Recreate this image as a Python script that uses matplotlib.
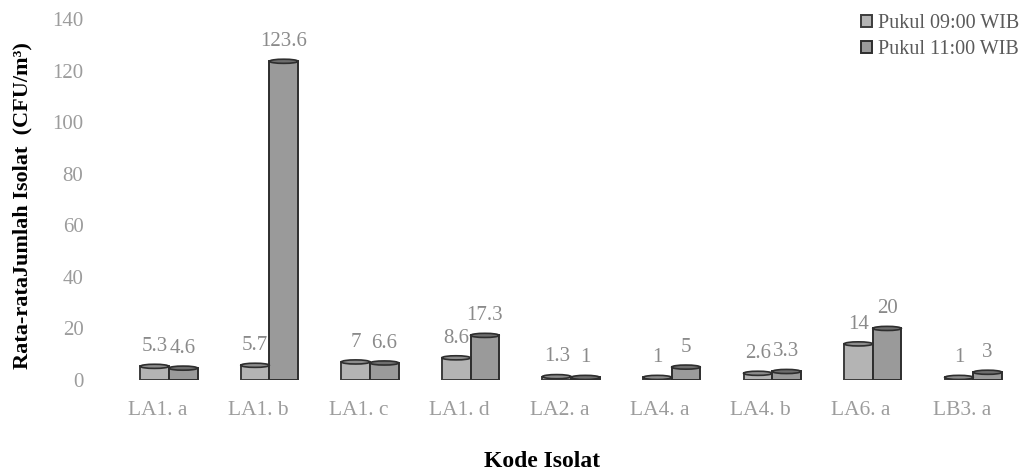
import matplotlib.pyplot as plt
from matplotlib.patches import Ellipse
import numpy as np

plt.rcParams['font.family'] = ['Liberation Serif', 'DejaVu Serif']

# data
kode = ["LA1. a", "LA1. b", "LA1. c", "LA1. d", "LA2. a",
        "LA4. a", "LA4. b", "LA6. a", "LB3. a"]
pukul_09 = [5.3, 5.7, 7, 8.6, 1.3, 1, 2.6, 14, 1]
pukul_11 = [4.6, 123.6, 6.6, 17.3, 1, 5, 3.3, 20, 3]
label_09 = ["5.3", "5.7", "7", "8.6", "1.3", "1", "2.6", "14", "1"]
label_11 = ["4.6", "123.6", "6.6", "17.3", "1", "5", "3.3", "20", "3"]

W, H = 1028, 473
fig = plt.figure(figsize=(W / 100, H / 100), dpi=100)
ax = fig.add_axes([107 / W, 1 - 380 / H, 905 / W, 361 / H])

x = np.arange(len(kode))
w = 0.285
shift = 0.115  # efek 3D: batang sedikit bergeser ke kanan dari label
b1 = ax.bar(x + shift - w / 2, pukul_09, w, color="#b4b4b4", edgecolor="#3c3c3c",
            linewidth=1.4, label="Pukul 09:00 WIB")
b2 = ax.bar(x + shift + w / 2, pukul_11, w, color="#9a9a9a", edgecolor="#2e2e2e",
            linewidth=1.4, label="Pukul 11:00 WIB")

# tutup silinder
for bars, c in ((b1, "#8c8c8c"), (b2, "#6e6e6e")):
    for r in bars:
        cx = r.get_x() + r.get_width() / 2
        ax.add_patch(Ellipse((cx, r.get_height()), r.get_width(), 1.6,
                             facecolor=c, edgecolor="#2e2e2e", linewidth=1.2,
                             zorder=3))

# label nilai
for xi, v, t in zip(x + shift - w / 2, pukul_09, label_09):
    ax.text(xi, v + 4, t, ha="center", va="bottom", fontsize=15, color="#8a8a8a")
for xi, v, t in zip(x + shift + w / 2, pukul_11, label_11):
    ax.text(xi, v + 4, t, ha="center", va="bottom", fontsize=15, color="#8a8a8a")

ax.set_ylim(0, 140)
ax.set_xlim(-0.5, len(kode) - 0.5)
ax.set_yticks(np.arange(0, 141, 20))
ax.set_xticks(x)
ax.set_xticklabels(kode)
ax.tick_params(length=0, labelcolor="#9c9c9c")
ax.tick_params(axis="y", pad=17, labelsize=15)
ax.tick_params(axis="x", pad=15, labelsize=15.5)
for s in ax.spines.values():
    s.set_visible(False)

ax.set_xlabel("Kode Isolat", fontsize=17, fontweight="bold")
ax.xaxis.label.set_va("center")
ax.xaxis.set_label_coords(0.481, -0.227)
ax.set_ylabel("Rata-rataJumlah Isolat  (CFU/m³)", fontsize=16,
              fontweight="bold")
ax.yaxis.set_label_coords(-0.082, 0.482)

fig.legend(handles=[b1, b2], loc="upper right", bbox_to_anchor=(1.005, 1.0),
           frameon=False, fontsize=14.5, handlelength=0.55, handleheight=0.55,
           handletextpad=0.3, labelcolor="#5a5a5a", labelspacing=0.35,
           borderpad=0.2)

plt.savefig("out.png", dpi=100)
